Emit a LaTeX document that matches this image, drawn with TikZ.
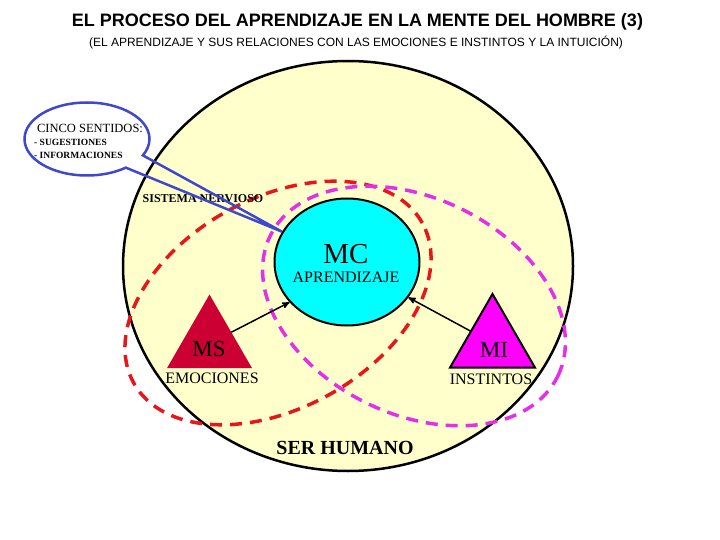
\documentclass[tikz,border=0pt]{standalone}
\usepackage{fontspec}
\setmainfont{Liberation Serif}
\newfontfamily\arialfont{Liberation Sans}
\usepackage{tikz}
\usetikzlibrary{arrows}
\usetikzlibrary{shapes.geometric}
\usetikzlibrary{shapes.callouts}
\definecolor{amarillo}{HTML}{FFFFCC}
\definecolor{carmesi}{HTML}{CC0033}
\definecolor{celeste}{HTML}{00FFFF}
\definecolor{violeta}{HTML}{FF00FF}
\definecolor{azulcall}{HTML}{3F48CC}
\definecolor{rojo}{HTML}{E8161B}
\definecolor{fucsia}{HTML}{E52EE8}
\newcommand{\sz}[1]{\fontsize{#1}{#1}\selectfont}
\tikzset{tri/.style={regular polygon, regular polygon sides=3, minimum size=98, inner sep=0, outer sep=0}}
\tikzset{ring/.style={line width=3.5, dash pattern=on 12 off 8}}
\tikzset{flecha/.style={black, line width=1.5, ->, >=stealth'}}

\begin{document}
\begin{tikzpicture} [x=1pt, y=1pt]
\useasboundingbox (0,0) rectangle (720,-540);
\draw[line width=2.5, fill=amarillo] (348,-266) ellipse (225 and 205);
\node[draw, ellipse, line width=2, fill=celeste, minimum width=145, minimum height=127, inner sep=0] (mc) at (347,-262) {};
\node[tri, fill=carmesi] (ms) at (209.5,-343.5) {};
\node[tri, draw, line width=2, fill=violeta] (mi) at (492.5,-343) {};
\draw[ring, rojo, rotate around={29:(278,-303)}] (278,-303) ellipse (165 and 105);
\draw[ring, fucsia, rotate around={-26:(414,-306)}] (414,-306) ellipse (160 and 108);
\draw[flecha] (ms) -- (mc.215);
\draw[flecha] (mi) -- (mc.-30);

\node (titulo) at (357.5,-22) {\arialfont\bfseries\sz{18}EL PROCESO DEL APRENDIZAJE EN LA MENTE DEL HOMBRE (3)};
\node (subtitulo) at (356,-43) {\arialfont\sz{12}(EL APRENDIZAJE Y SUS RELACIONES CON LAS EMOCIONES E INSTINTOS Y LA INTUICIÓN)};
\node (mclbl) at (346,-254) {\sz{29}MC};
\node (aprend) at (346,-277) {\sz{16}APRENDIZAJE};
\node (mslbl) at (209,-349) {\sz{23}MS};
\node (milbl) at (494,-350) {\sz{23}MI};
\node (emo) at (212,-378) {\sz{16}EMOCIONES};
\node (inst) at (491,-379) {\sz{16}INSTINTOS};
\node (ser) at (345,-448) {\sz{20}\bfseries SER HUMANO};
\node (sisnerv) at (203,-199) {\sz{12}\bfseries SISTEMA NERVIOSO};

\node[ellipse callout, draw=azulcall, line width=2.5, minimum width=125, minimum height=73, inner sep=0, callout absolute pointer=(mc.155), callout pointer arc=25] (sentidos) at (87,-139) {};
\node (cinco) at (90,-128) {\sz{12.5}CINCO SENTIDOS:};
\node[anchor=west, inner sep=1] (sug) at (33,-142) {\sz{9.5}\bfseries - SUGESTIONES};
\node[anchor=west, inner sep=1] (info) at (33,-155) {\sz{9.5}\bfseries - INFORMACIONES};
\end{tikzpicture}
\end{document}
